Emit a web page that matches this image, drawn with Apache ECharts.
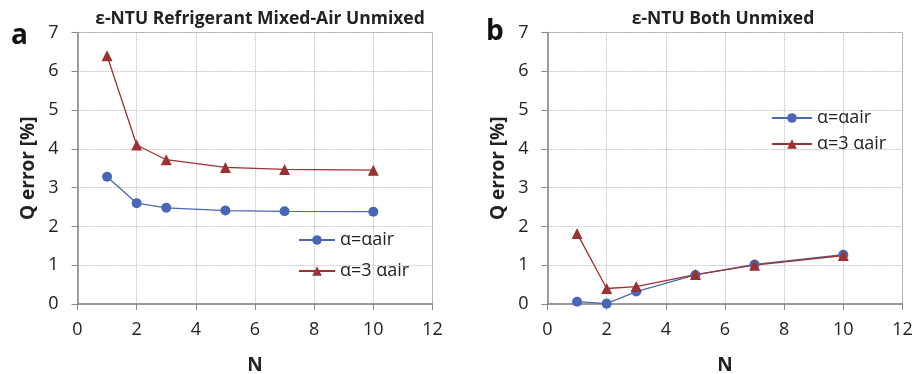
<!DOCTYPE html>
<html><head><meta charset="utf-8">
<script src="https://cdn.jsdelivr.net/npm/echarts@6/dist/echarts.min.js"></script>
<style>html,body{margin:0;padding:0;background:#fff}#c{width:915px;height:374px}</style>
</head><body><div id="c"></div>
<script>
const N = [1, 2, 3, 5, 7, 10];
const leftBlue = [3.28, 2.60, 2.48, 2.41, 2.39, 2.38];
const leftRed = [6.40, 4.10, 3.72, 3.52, 3.47, 3.45];
const rightBlue = [0.06, 0.01, 0.32, 0.75, 1.02, 1.27];
const rightRed = [1.82, 0.40, 0.45, 0.76, 1.00, 1.25];
const titles = ['ε-NTU Refrigerant Mixed-Air Unmixed', 'ε-NTU Both Unmixed'];
const panelLabels = ['a', 'b'];
const seriesNames = ['α=αair', 'α=3 αair'];

const BLUE = '#4a67b5', RED = '#9c3131';
const FONT = '"Open Sans", "Liberation Sans", sans-serif';
const chart = echarts.init(document.getElementById('c'));
const pair = (xs, ys) => xs.map((x, i) => [x, ys[i]]);

function xAx(gi) {
  return {
    type: 'value', gridIndex: gi, min: 0, max: 12, interval: 2,
    name: 'N', nameLocation: 'middle', nameGap: 52,
    nameTextStyle: { fontFamily: FONT, fontWeight: 'bold', fontSize: 19, color: '#222' },
    axisLine: { show: true, lineStyle: { color: '#888', width: 1.5 } },
    axisTick: { show: true, length: 6, lineStyle: { color: '#888' } },
    axisLabel: { fontFamily: FONT, fontSize: 18, color: '#222', margin: 17 },
    splitLine: { show: true, lineStyle: { color: '#c8c8c8', type: [2, 1] } }
  };
}
function yAx(gi) {
  return {
    type: 'value', gridIndex: gi, min: 0, max: 7, interval: 1,
    name: 'Q error [%]', nameLocation: 'middle', nameGap: 39,
    nameTextStyle: { fontFamily: FONT, fontWeight: 'bold', fontSize: 19, color: '#222' },
    axisLine: { show: true, lineStyle: { color: '#888', width: 1.5 } },
    axisTick: { show: true, length: 6, lineStyle: { color: '#888' } },
    axisLabel: { fontFamily: FONT, fontSize: 18, color: '#222', margin: 19 },
    splitLine: { show: true, lineStyle: { color: '#c8c8c8', type: [2, 1] } }
  };
}
function ser(name, data, gi, color, symbol) {
  return {
    name: name, type: 'line', xAxisIndex: gi, yAxisIndex: gi, data: data,
    symbol: symbol, symbolSize: symbol === 'circle' ? 10 : 11,
    lineStyle: { color: color, width: 1.3 }, itemStyle: { color: color },
    animation: false
  };
}

chart.setOption({
  animation: false,
  title: [
    { text: titles[0], left: 255, top: 5, textAlign: 'center', textStyle: { fontFamily: FONT, fontSize: 17.5, fontWeight: 'bold', color: '#222' } },
    { text: titles[1], left: 718, top: 5, textAlign: 'center', textStyle: { fontFamily: FONT, fontSize: 17.5, fontWeight: 'bold', color: '#222' } },
    { text: panelLabels[0], left: 6, top: 17, textStyle: { fontFamily: FONT, fontSize: 28, fontWeight: 'bold', color: '#111' } },
    { text: panelLabels[1], left: 481, top: 13, textStyle: { fontFamily: FONT, fontSize: 28, fontWeight: 'bold', color: '#111' } }
  ],
  grid: [
    { left: 77.5, right: 482.5, top: 32.5, bottom: 70, outerBoundsMode: 'none', containLabel: false, show: true, borderColor: '#999', borderWidth: 1 },
    { left: 547.5, right: 12.5, top: 32.5, bottom: 70, outerBoundsMode: 'none', containLabel: false, show: true, borderColor: '#999', borderWidth: 1 }
  ],
  xAxis: [xAx(0), xAx(1)],
  yAxis: [yAx(0), yAx(1)],
  legend: [
    { data: [seriesNames[0], seriesNames[1]].map(n => ({ name: n })), orient: 'vertical', left: 293, top: 226, itemWidth: 36, itemHeight: 12, itemGap: 13,
      textStyle: { fontFamily: FONT, fontSize: 18, color: '#222' } },
    { data: [seriesNames[0], seriesNames[1]].map(n => ({ name: n })), orient: 'vertical', left: 766, top: 104, itemWidth: 40, itemHeight: 12, itemGap: 8,
      textStyle: { fontFamily: FONT, fontSize: 18, color: '#222' } }
  ],
  series: [
    ser(seriesNames[0], pair(N, leftBlue), 0, BLUE, 'circle'),
    ser(seriesNames[1], pair(N, leftRed), 0, RED, 'triangle'),
    ser(seriesNames[0], pair(N, rightBlue), 1, BLUE, 'circle'),
    ser(seriesNames[1], pair(N, rightRed), 1, RED, 'triangle')
  ]
});
</script></body></html>
